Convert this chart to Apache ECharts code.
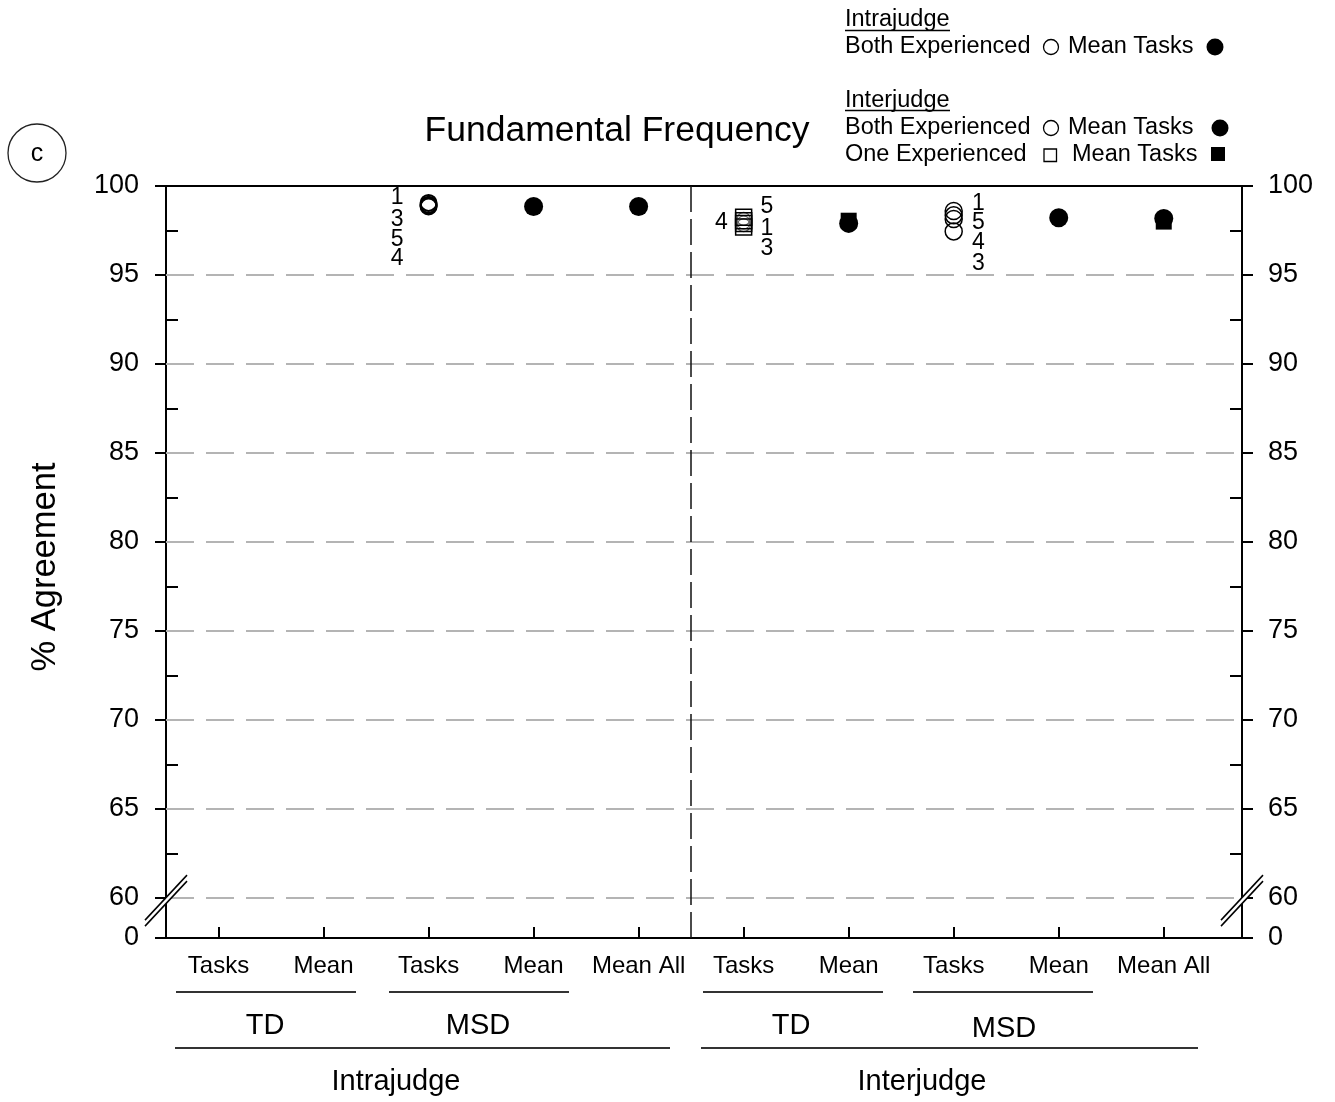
<!DOCTYPE html>
<html><head><meta charset="utf-8">
<script src="https://cdn.jsdelivr.net/npm/echarts@6/dist/echarts.min.js"></script>
<style>html,body{margin:0;padding:0;background:#fff}#c{width:1335px;height:1102px}</style>
</head><body><div id="c"></div>
<script>
// ---------- data ----------
const categories = ['Tasks','Mean','Tasks','Mean','Mean All','Tasks','Mean','Tasks','Mean','Mean All'];
const yMajorTicks = [60,65,70,75,80,85,90,95,100];
const yMinorTicks = [62.5,67.5,72.5,77.5,82.5,87.5,92.5,97.5];
const yBreakBottom = 57.75;            // axis bottom, labelled "0" (broken axis)
const yGridLines = [60,65,70,75,80,85,90,95];
const groupDivider = 5.5;

// Intrajudge – both experienced – individual tasks (MSD Tasks)
const intraTaskCat = 2;
const intraTaskIds = ['1','3','5','4'];
const intraTaskVals = [99.05, 98.9, 98.95, 98.85];
// Intrajudge – mean tasks
const intraMeanCats = [3, 4];
const intraMeanVals = [98.85, 98.85];
// Interjudge – one experienced – individual tasks (TD Tasks)
const oneTaskCat = 5;
const oneTaskIds = ['5','4','1','3'];
const oneTaskVals = [98.25, 98.05, 97.9, 97.7];
// Interjudge – both experienced – TD tasks (overlapping, unlabelled)
const bothTdTaskVals = [98.15, 97.95, 97.8];
// Interjudge – both experienced – individual tasks (MSD Tasks)
const bothTaskCat = 7;
const bothTaskIds = ['1','5','4','3'];
const bothTaskVals = [98.6, 98.35, 98.15, 97.45];
// Interjudge – both experienced – means
const bothMeanCats = [6, 8, 9];
const bothMeanVals = [97.9, 98.22, 98.18];
// Interjudge – one experienced – means
const oneMeanCats = [6, 9];
const oneMeanVals = [98.05, 98.0];

// ---------- styling ----------
const FONT = '"Liberation Sans", Arial, Helvetica, sans-serif';
const intraLabelStyle = [['left',-11,-5],['left',-11,14],['left',-11,35],['left',-11,52]];
const oneLabelStyle = [['right',3,-10],['left',-2,2],['right',3,5],['right',3,22]];
const bothLabelStyle = [['right',4,-7],['right',4,7],['right',4,24],['right',4,32]];

function labelled(cat, vals, ids, st) {
  return vals.map((v, i) => ({
    value: [cat + 1, v],
    label: { show: true, formatter: ids[i], position: st[i][0], offset: [st[i][1], st[i][2]],
             color: '#000', opacity: 1, fontSize: 23, fontFamily: FONT, distance: 5 }
  }));
}
const openItem = (w) => ({ color: 'rgba(0,0,0,0)', borderColor: '#000', borderWidth: w, opacity: 1 });
const fillItem = { color: '#000', opacity: 1 };

const xRange = { min: 0.5, max: 10.745 };
const catTicks = categories.map((c, i) => i + 1);

const chart = echarts.init(document.getElementById('c'), null, { renderer: 'canvas' });

const yBase = { type: 'value', min: yBreakBottom, max: 100, gridIndex: 0, splitLine: { show: false } };
const yLabelFmt = v => (Math.abs(v - yBreakBottom) < 1e-6 ? '0' : String(v));

const option = {
  animation: false,
  backgroundColor: '#fff',
  textStyle: { fontFamily: FONT },
  grid: { left: 166, right: 93, top: 186, bottom: 164, containLabel: false, outerBoundsMode: 'none' },
  xAxis: [
    { type: 'value', position: 'bottom', ...xRange,
      axisLine: { show: true, onZero: false, lineStyle: { color: '#000', width: 2 } },
      axisTick: { show: true, inside: true, length: 11, customValues: catTicks, lineStyle: { color: '#000', width: 2 } },
      axisLabel: { show: true, customValues: catTicks, margin: 16, color: '#000', fontSize: 24, fontFamily: FONT,
                   formatter: v => categories[Math.round(v) - 1] || '' },
      splitLine: { show: false } },
    { type: 'value', position: 'top', ...xRange,
      axisLine: { show: true, onZero: false, lineStyle: { color: '#000', width: 2 } },
      axisTick: { show: false }, axisLabel: { show: false }, splitLine: { show: false } }
  ],
  yAxis: [
    { ...yBase, position: 'left',
      axisLine: { show: true, onZero: false, lineStyle: { color: '#000', width: 2 } },
      axisTick: { show: true, inside: false, length: 11, customValues: [yBreakBottom].concat(yMajorTicks), lineStyle: { color: '#000', width: 2 } },
      axisLabel: { show: true, customValues: [yBreakBottom].concat(yMajorTicks), margin: 27, color: '#000', fontSize: 27, fontFamily: FONT,
                   padding: [4, 0, 0, 0], showMinLabel: true, showMaxLabel: true, formatter: yLabelFmt } },
    { ...yBase, position: 'left',
      axisLine: { show: false },
      axisTick: { show: true, inside: true, length: 12, customValues: yMinorTicks, lineStyle: { color: '#000', width: 2 } },
      axisLabel: { show: false } },
    { ...yBase, position: 'right',
      axisLine: { show: true, onZero: false, lineStyle: { color: '#000', width: 2 } },
      axisTick: { show: true, inside: false, length: 11, customValues: [yBreakBottom].concat(yMajorTicks), lineStyle: { color: '#000', width: 2 } },
      axisLabel: { show: true, customValues: [yBreakBottom].concat(yMajorTicks), margin: 26, color: '#000', fontSize: 27, fontFamily: FONT,
                   padding: [4, 0, 0, 0], showMinLabel: true, showMaxLabel: true, formatter: yLabelFmt } },
    { ...yBase, position: 'right',
      axisLine: { show: false },
      axisTick: { show: true, inside: true, length: 12, customValues: yMinorTicks, lineStyle: { color: '#000', width: 2 } },
      axisLabel: { show: false } }
  ],
  series: [
    { name: 'grid', type: 'scatter', xAxisIndex: 0, yAxisIndex: 0, data: [], silent: true,
      markLine: { silent: true, symbol: ['none', 'none'], label: { show: false }, animation: false,
        data: yGridLines.map(v => ({ yAxis: v, lineStyle: { color: '#b4b4b4', width: 2, type: [28, 12] } }))
          .concat([{ xAxis: groupDivider, lineStyle: { color: '#111', width: 1.5, type: [26, 7] } }]) } },
    { name: 'Intrajudge Both Experienced', type: 'scatter', yAxisIndex: 0, symbol: 'circle', symbolSize: 16,
      itemStyle: openItem(2), data: labelled(intraTaskCat, intraTaskVals, intraTaskIds, intraLabelStyle) },
    { name: 'Intrajudge Mean Tasks', type: 'scatter', yAxisIndex: 0, symbol: 'circle', symbolSize: 19,
      itemStyle: fillItem, data: intraMeanCats.map((c, i) => [c + 1, intraMeanVals[i]]) },
    { name: 'Interjudge Both Experienced (TD)', type: 'scatter', yAxisIndex: 0, symbol: 'circle', symbolSize: 13,
      itemStyle: { color: 'rgba(0,0,0,0)', borderColor: '#666', borderWidth: 1.2, opacity: 1 },
      data: bothTdTaskVals.map(v => [oneTaskCat + 1, v]) },
    { name: 'Interjudge One Experienced', type: 'scatter', yAxisIndex: 0, symbol: 'rect', symbolSize: 16,
      itemStyle: openItem(1.5), data: labelled(oneTaskCat, oneTaskVals, oneTaskIds, oneLabelStyle) },
    { name: 'Interjudge Both Experienced', type: 'scatter', yAxisIndex: 0, symbol: 'circle', symbolSize: 17,
      itemStyle: openItem(1.5), data: labelled(bothTaskCat, bothTaskVals, bothTaskIds, bothLabelStyle) },
    { name: 'Interjudge Both Mean Tasks', type: 'scatter', yAxisIndex: 0, symbol: 'circle', symbolSize: 19,
      itemStyle: fillItem, data: bothMeanCats.map((c, i) => [c + 1, bothMeanVals[i]]) },
    { name: 'Interjudge One Mean Tasks', type: 'scatter', yAxisIndex: 0, symbol: 'rect', symbolSize: 16,
      itemStyle: fillItem, data: oneMeanCats.map((c, i) => [c + 1, oneMeanVals[i]]) }
  ]
};
chart.setOption(option);

// ---------- decorations ----------
function txt(s, x, y, size, align, extra) {
  return Object.assign({ type: 'text', x: x, y: y + 2, z: 100, silent: true,
    style: { text: s, fill: '#000', font: size + 'px ' + FONT, textAlign: align || 'left', align: align || 'left',
             textVerticalAlign: 'middle', verticalAlign: 'middle' } }, extra || {});
}
function line(x1, y1, x2, y2, w, c) {
  return { type: 'line', z: 100, silent: true, shape: { x1, y1, x2, y2 }, style: { stroke: c || '#000', lineWidth: w || 1.5 } };
}
function brk(cx, cy) {
  const dx = 21, dy = 22.5, o = 3;
  return [
    { type: 'polygon', z: 99, silent: true,
      shape: { points: [[cx - dx, cy + dy - o], [cx + dx, cy - dy - o], [cx + dx, cy - dy + o], [cx - dx, cy + dy + o]] },
      style: { fill: '#fff' } },
    line(cx - dx, cy + dy - o, cx + dx, cy - dy - o, 1.5),
    line(cx - dx, cy + dy + o, cx + dx, cy - dy + o, 1.5)
  ];
}
const p0 = chart.convertToPixel({ xAxisIndex: 0 }, 0.5);
const p1 = chart.convertToPixel({ xAxisIndex: 0 }, 10.745);
const yb = chart.convertToPixel({ yAxisIndex: 0 }, 59.85);

const g = [
  txt('Fundamental Frequency', 617, 129, 35.5, 'center'),
  { type: 'circle', z: 100, silent: true, shape: { cx: 37, cy: 153, r: 29 }, style: { fill: 'none', stroke: '#222', lineWidth: 1.3 } },
  txt('c', 37, 152, 25, 'center'),
  txt('% Agreement', 45, 565, 34.5, 'center', { rotation: Math.PI / 2 }),
  // legend
  txt('Intrajudge', 845, 18, 23.5), line(845, 30.5, 950, 30.5, 1.3),
  txt('Both Experienced', 845, 45, 23.5),
  { type: 'circle', z: 100, silent: true, shape: { cx: 1051, cy: 47, r: 7.5 }, style: { fill: 'none', stroke: '#000', lineWidth: 1.3 } },
  txt('Mean Tasks', 1068, 45, 23.5),
  { type: 'circle', z: 100, silent: true, shape: { cx: 1215, cy: 47, r: 8.5 }, style: { fill: '#000' } },
  txt('Interjudge', 845, 99, 23.5), line(845, 110.5, 950, 110.5, 1.3),
  txt('Both Experienced', 845, 126, 23.5),
  { type: 'circle', z: 100, silent: true, shape: { cx: 1051, cy: 128, r: 7.5 }, style: { fill: 'none', stroke: '#000', lineWidth: 1.3 } },
  txt('Mean Tasks', 1068, 126, 23.5),
  { type: 'circle', z: 100, silent: true, shape: { cx: 1220, cy: 128, r: 8.5 }, style: { fill: '#000' } },
  txt('One Experienced', 845, 153, 23.5),
  { type: 'rect', z: 100, silent: true, shape: { x: 1044, y: 149, width: 12.5, height: 12.5 }, style: { fill: 'none', stroke: '#000', lineWidth: 1.3 } },
  txt('Mean Tasks', 1072, 153, 23.5),
  { type: 'rect', z: 100, silent: true, shape: { x: 1211, y: 147, width: 14, height: 14 }, style: { fill: '#000' } },
  // group annotations below x axis
  line(176, 992, 356, 992, 2, '#333'), line(389, 992, 569, 992, 2, '#333'),
  line(703, 992, 883, 992, 2, '#333'), line(913, 992, 1093, 992, 2, '#333'),
  line(175, 1048, 670, 1048, 2, '#333'), line(701, 1048, 1198, 1048, 2, '#333'),
  txt('TD', 265, 1024, 29, 'center'), txt('MSD', 478, 1024, 29, 'center'),
  txt('TD', 791, 1024, 29, 'center'), txt('MSD', 1004, 1027, 29, 'center'),
  txt('Intrajudge', 396, 1080, 29, 'center'), txt('Interjudge', 922, 1080, 29, 'center')
].concat(brk(p0, yb)).concat(brk(p1, yb));

chart.setOption({ graphic: { elements: g } });
</script>
</body></html>
